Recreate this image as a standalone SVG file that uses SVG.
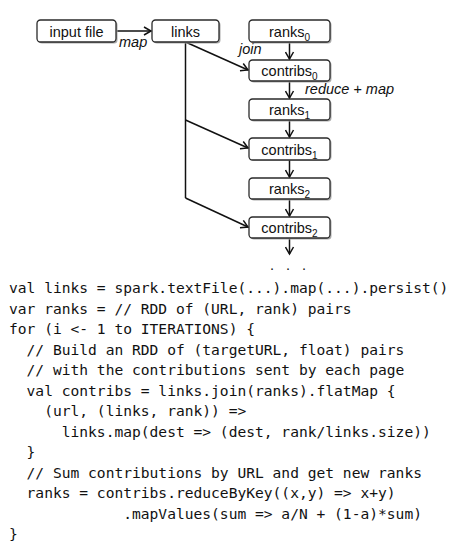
<svg xmlns="http://www.w3.org/2000/svg" width="459" height="550" viewBox="0 0 459 550">
<style>
.box{fill:#fff;stroke:#2a2a2a;stroke-width:1.3}
.sh{fill:#aaa}
.lbl{font-family:"Liberation Sans",Arial,sans-serif;font-size:14.5px;fill:#111;text-anchor:middle}
.it{font-family:"Liberation Sans",Arial,sans-serif;font-size:14.5px;font-style:italic;fill:#111}
.sub{font-size:10px}
.edge{fill:none;stroke:#111;stroke-width:1.5}
.code{font-family:"DejaVu Sans Mono",monospace;font-size:14.6px;fill:#111;white-space:pre}
</style>
<defs>
<marker id="ah" markerWidth="10" markerHeight="10" refX="8" refY="5" orient="auto" markerUnits="userSpaceOnUse">
<path d="M1,1 L8,5 L1,9" fill="none" stroke="#111" stroke-width="1.5"/>
</marker>
</defs>
<g id="edges">
<line class="edge" x1="116" y1="31" x2="151" y2="31" marker-end="url(#ah)"/>
<polyline class="edge" points="185.5,42 185.5,198"/>
<line class="edge" x1="185.5" y1="42" x2="248" y2="70" marker-end="url(#ah)"/>
<line class="edge" x1="185.5" y1="120" x2="248" y2="148" marker-end="url(#ah)"/>
<line class="edge" x1="185.5" y1="198" x2="248" y2="227" marker-end="url(#ah)"/>
<line class="edge" x1="289.5" y1="42" x2="289.5" y2="59" marker-end="url(#ah)"/>
<line class="edge" x1="289.5" y1="81" x2="289.5" y2="98" marker-end="url(#ah)"/>
<line class="edge" x1="289.5" y1="120" x2="289.5" y2="137" marker-end="url(#ah)"/>
<line class="edge" x1="289.5" y1="160" x2="289.5" y2="177" marker-end="url(#ah)"/>
<line class="edge" x1="289.5" y1="199" x2="289.5" y2="216" marker-end="url(#ah)"/>
<line class="edge" x1="289.5" y1="238" x2="289.5" y2="254" marker-end="url(#ah)"/>
<text class="it" x="119" y="47">map</text>
<text class="it" x="239" y="54">join</text>
<text class="it" x="305" y="94">reduce + map</text>
<text class="lbl" x="290" y="270" letter-spacing="4">. . .</text>
</g>
<g id="input-file">
<rect class="sh" x="38.5" y="21.5" width="79" height="22" rx="3.5"/>
<rect class="box" x="37" y="20" width="79" height="22" rx="3.5"/>
<text class="lbl" x="76.5" y="36.5">input file</text>
</g>
<g id="links">
<rect class="sh" x="153.5" y="21.5" width="67" height="22" rx="3.5"/>
<rect class="box" x="152" y="20" width="67" height="22" rx="3.5"/>
<text class="lbl" x="185.5" y="36.5">links</text>
</g>
<g id="ranks0">
<rect class="sh" x="250.5" y="21.5" width="81" height="22" rx="3.5"/>
<rect class="box" x="249" y="20" width="81" height="22" rx="3.5"/>
<text class="lbl" x="289.5" y="36.5">ranks<tspan class="sub" dy="4">0</tspan></text>
</g>
<g id="contribs0">
<rect class="sh" x="250.5" y="61.5" width="81" height="21" rx="3.5"/>
<rect class="box" x="249" y="60" width="81" height="21" rx="3.5"/>
<text class="lbl" x="289.5" y="76">contribs<tspan class="sub" dy="4">0</tspan></text>
</g>
<g id="ranks1">
<rect class="sh" x="250.5" y="100.5" width="81" height="21" rx="3.5"/>
<rect class="box" x="249" y="99" width="81" height="21" rx="3.5"/>
<text class="lbl" x="289.5" y="115">ranks<tspan class="sub" dy="4">1</tspan></text>
</g>
<g id="contribs1">
<rect class="sh" x="250.5" y="139.5" width="81" height="21" rx="3.5"/>
<rect class="box" x="249" y="138" width="81" height="22" rx="3.5"/>
<text class="lbl" x="289.5" y="154.5">contribs<tspan class="sub" dy="4">1</tspan></text>
</g>
<g id="ranks2">
<rect class="sh" x="250.5" y="179.5" width="81" height="21" rx="3.5"/>
<rect class="box" x="249" y="178" width="81" height="21" rx="3.5"/>
<text class="lbl" x="289.5" y="194">ranks<tspan class="sub" dy="4">2</tspan></text>
</g>
<g id="contribs2">
<rect class="sh" x="250.5" y="218.5" width="81" height="21" rx="3.5"/>
<rect class="box" x="249" y="217" width="81" height="21" rx="3.5"/>
<text class="lbl" x="289.5" y="233">contribs<tspan class="sub" dy="4">2</tspan></text>
</g>
<g id="code">
<text class="code" x="9" y="293">val links = spark.textFile(...).map(...).persist()</text>
<text class="code" x="9" y="313.5">var ranks = // RDD of (URL, rank) pairs</text>
<text class="code" x="9" y="334">for (i &lt;- 1 to ITERATIONS) {</text>
<text class="code" x="9" y="354.5">  // Build an RDD of (targetURL, float) pairs</text>
<text class="code" x="9" y="375">  // with the contributions sent by each page</text>
<text class="code" x="9" y="395.5">  val contribs = links.join(ranks).flatMap {</text>
<text class="code" x="9" y="416">    (url, (links, rank)) =&gt;</text>
<text class="code" x="9" y="436.5">      links.map(dest =&gt; (dest, rank/links.size))</text>
<text class="code" x="9" y="457">  }</text>
<text class="code" x="9" y="477.5">  // Sum contributions by URL and get new ranks</text>
<text class="code" x="9" y="498">  ranks = contribs.reduceByKey((x,y) =&gt; x+y)</text>
<text class="code" x="9" y="518.5">             .mapValues(sum =&gt; a/N + (1-a)*sum)</text>
<text class="code" x="9" y="539">}</text>
</g>
</svg>
